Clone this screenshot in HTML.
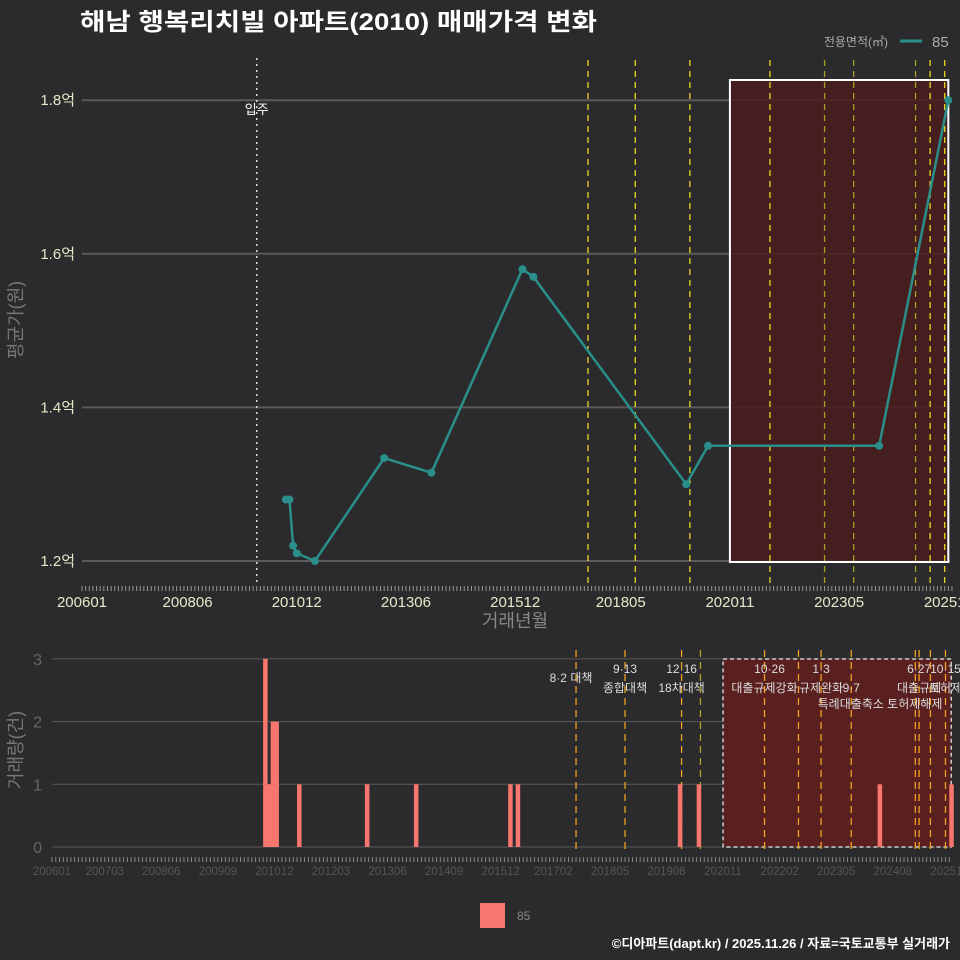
<!DOCTYPE html>
<html><head><meta charset="utf-8"><style>
html,body{margin:0;padding:0;background:#2b2b2d;}
svg{display:block;font-family:"Liberation Sans","Noto Sans CJK KR",sans-serif;}
</style></head><body>
<svg id="c" width="960" height="960" xmlns="http://www.w3.org/2000/svg">
<rect width="960" height="960" fill="#2b2b2d"/>
<text x="80" y="30" fill="#ffffff" font-size="24" font-weight="bold" textLength="517" lengthAdjust="spacingAndGlyphs">해남 행복리치빌 아파트(2010) 매매가격 변화</text>
<text x="888" y="46" fill="#aaaaaa" font-size="12" text-anchor="end">전용면적(㎡)</text>
<line x1="900" y1="41" x2="922" y2="41" stroke="#2a8f8a" stroke-width="3"/>
<text x="932" y="47" fill="#aaaaaa" font-size="15">85</text>
<g id="topg"></g><g id="botg"></g>
<text transform="translate(22,320) rotate(-90)" fill="#777" font-size="18" text-anchor="middle">평균가(원)</text>
<text x="515" y="627" fill="#888" font-size="18" text-anchor="middle">거래년월</text>
<text transform="translate(22,750) rotate(-90)" fill="#777" font-size="18" text-anchor="middle">거래량(건)</text>
<rect x="480" y="903" width="25" height="25" fill="#f8766d"/>
<text x="517" y="920" fill="#888" font-size="12">85</text>
<text x="950" y="948" fill="#ffffff" font-size="13" font-weight="bold" text-anchor="end">©디아파트(dapt.kr) / 2025.11.26 / 자료=국토교통부 실거래가</text>
</svg>
<script>
const priceMonths=["201009","201010","201011","201012","201105","201212","201401","201602","201605","201911","202005","202404","202511"];
const priceValues=[1.28,1.28,1.22,1.21,1.20,1.334,1.315,1.58,1.57,1.30,1.35,1.35,1.80];
const volMonths=["201009","201010","201011","201012","201106","201212","201401","201602","201604","201911","202004","202404","202511"];
const volValues=[3,1,2,2,1,1,1,1,1,1,1,1,1];
const xTickLabelsTop=["200601","200806","201012","201306","201512","201805","202011","202305","202511"];
const xTickLabelsBot=["200601","200703","200806","200909","201012","201203","201306","201409","201512","201702","201805","201908","202011","202202","202305","202408","202511"];
const yTicksTop=[1.2,1.4,1.6,1.8];
const yTicksBot=[0,1,2,3];
const policyMonths=["201708","201809","201912","202005","202110","202207","202301","202309","202502","202503","202506","202510"];
const policyInTop=[1,1,1,0,1,0,1,1,1,0,1,1];
const policyLabels=[["8·2 대책",""],["9·13","종합대책"],["12·16","18차대책"],["",""],["10·26","대출규제강화"],["",""],["1·3","규제완화"],["","9·7"],["",""],["6·27","대출규제"],["",""],["10·15","토허제"]];
const NS="http://www.w3.org/2000/svg";
function mi(s){return (+s.slice(0,4)-2006)*12+(+s.slice(4)-1);}
const xT=m=>82+3.64*mi(m), yT=v=>561-(v-1.2)*768;
const xB=m=>52+3.77*mi(m), yB=v=>847-v*62.7;
function el(p,t,a,txt){const e=document.createElementNS(NS,t);for(const k in a)e.setAttribute(k,a[k]);if(txt!==undefined)e.textContent=txt;p.appendChild(e);return e;}
const topG=document.getElementById('topg'), botG=document.getElementById('botg');
yTicksTop.forEach(v=>{
 let g=el(topG,'line',{x1:82,x2:950,y1:yT(v),y2:yT(v),stroke:'#5a5a5a','stroke-width':2});
 
 
 let t=el(topG,'text',{x:75,y:yT(v)+5,fill:'#e8e8c8','font-size':15,'text-anchor':'end'},v.toFixed(1)+'억');
 
 
});
let r=el(topG,'rect',{x:xT("202011"),y:80,width:xT("202511")-xT("202011"),height:482,fill:'#4a1c1f','fill-opacity':0.85,stroke:'#ffffff','stroke-width':2});


let mv=el(topG,'line',{x1:xT("201001"),x2:xT("201001"),y1:58,y2:585,stroke:'#dddddd','stroke-width':1.5,'stroke-dasharray':'2,4'});


let mt=el(topG,'text',{x:xT("201001"),y:114,fill:'#ffffff','font-size':13,'text-anchor':'middle'},'입주');


policyMonths.forEach((m,i)=>{
 if(!policyInTop[i])return;
 let l=el(topG,'line',{x1:xT(m),x2:xT(m),y1:60,y2:585,stroke:(i==6||i==7||i==8?'#a8a020':'#e8d820'),'stroke-width':1.3,'stroke-dasharray':'6,5'});
 
 
});
for(let k=0;k<=239;k++){let x=82+3.64*k;el(topG,'line',{x1:x,x2:x,y1:586,y2:591,stroke:'#999','stroke-width':1});}
xTickLabelsTop.forEach(s=>{let t=el(topG,'text',{x:xT(s),y:607,fill:'#e8e8c8','font-size':15,'text-anchor':'middle'},s);
 
 });
let pts=priceMonths.map((m,i)=>xT(m)+','+yT(priceValues[i])).join(' ');
let pl=el(topG,'polyline',{points:pts,fill:'none',stroke:'#2a8f8a','stroke-width':2.5});


priceMonths.forEach((m,i)=>{let c=el(topG,'circle',{cx:xT(m),cy:yT(priceValues[i]),r:4,fill:'#2a8f8a'});
 
 });
yTicksBot.forEach(v=>{
 let g=el(botG,'line',{x1:52,x2:950,y1:yB(v),y2:yB(v),stroke:'#5a5a5a','stroke-width':1});
 
 
 let t=el(botG,'text',{x:42,y:yB(v)+6,fill:'#666','font-size':16,'text-anchor':'end'},String(v));
 
 
});
let rb=el(botG,'rect',{x:xB("202011"),y:659,width:xB("202511")-xB("202011")+2,height:188,fill:'#5a2020',stroke:'#cccccc','stroke-width':1.5,'stroke-dasharray':'4,3'});


policyMonths.forEach((m,i)=>{
 let l=el(botG,'line',{x1:xB(m),x2:xB(m),y1:650,y2:852,stroke:(i==3?'#b0a020':'#f0a020'),'stroke-width':1.3,'stroke-dasharray':'7,5'});
 
 
 const [a,b]=policyLabels[i];
 if(a){let t=el(botG,'text',{x:xB(m)+(i==0?-5:(i==4?5:0)),y:i==0?682:673,fill:'#dddddd','font-size':12,'text-anchor':'middle'},a);
  
  }
 if(b){let t=el(botG,'text',{x:xB(m),y:692,fill:'#dddddd','font-size':12,'text-anchor':'middle'},b);
  
  }
});
let ex=el(botG,'text',{x:880,y:708,fill:'#dddddd','font-size':12,'text-anchor':'middle'},'특례대출축소 토허제해제');


volMonths.forEach((m,i)=>{let b=el(botG,'rect',{x:xB(m),y:yB(volValues[i]),width:4.5,height:847-yB(volValues[i]),fill:'#f8766d'});
 
 });
for(let k=0;k<=238;k++){let x=52+3.77*k;el(botG,'line',{x1:x,x2:x,y1:857,y2:862,stroke:'#888','stroke-width':1});}
xTickLabelsBot.forEach(s=>{let t=el(botG,'text',{x:xB(s),y:875,fill:'#555','font-size':11.5,'text-anchor':'middle'},s);
 
 });
</script>
</body></html>
